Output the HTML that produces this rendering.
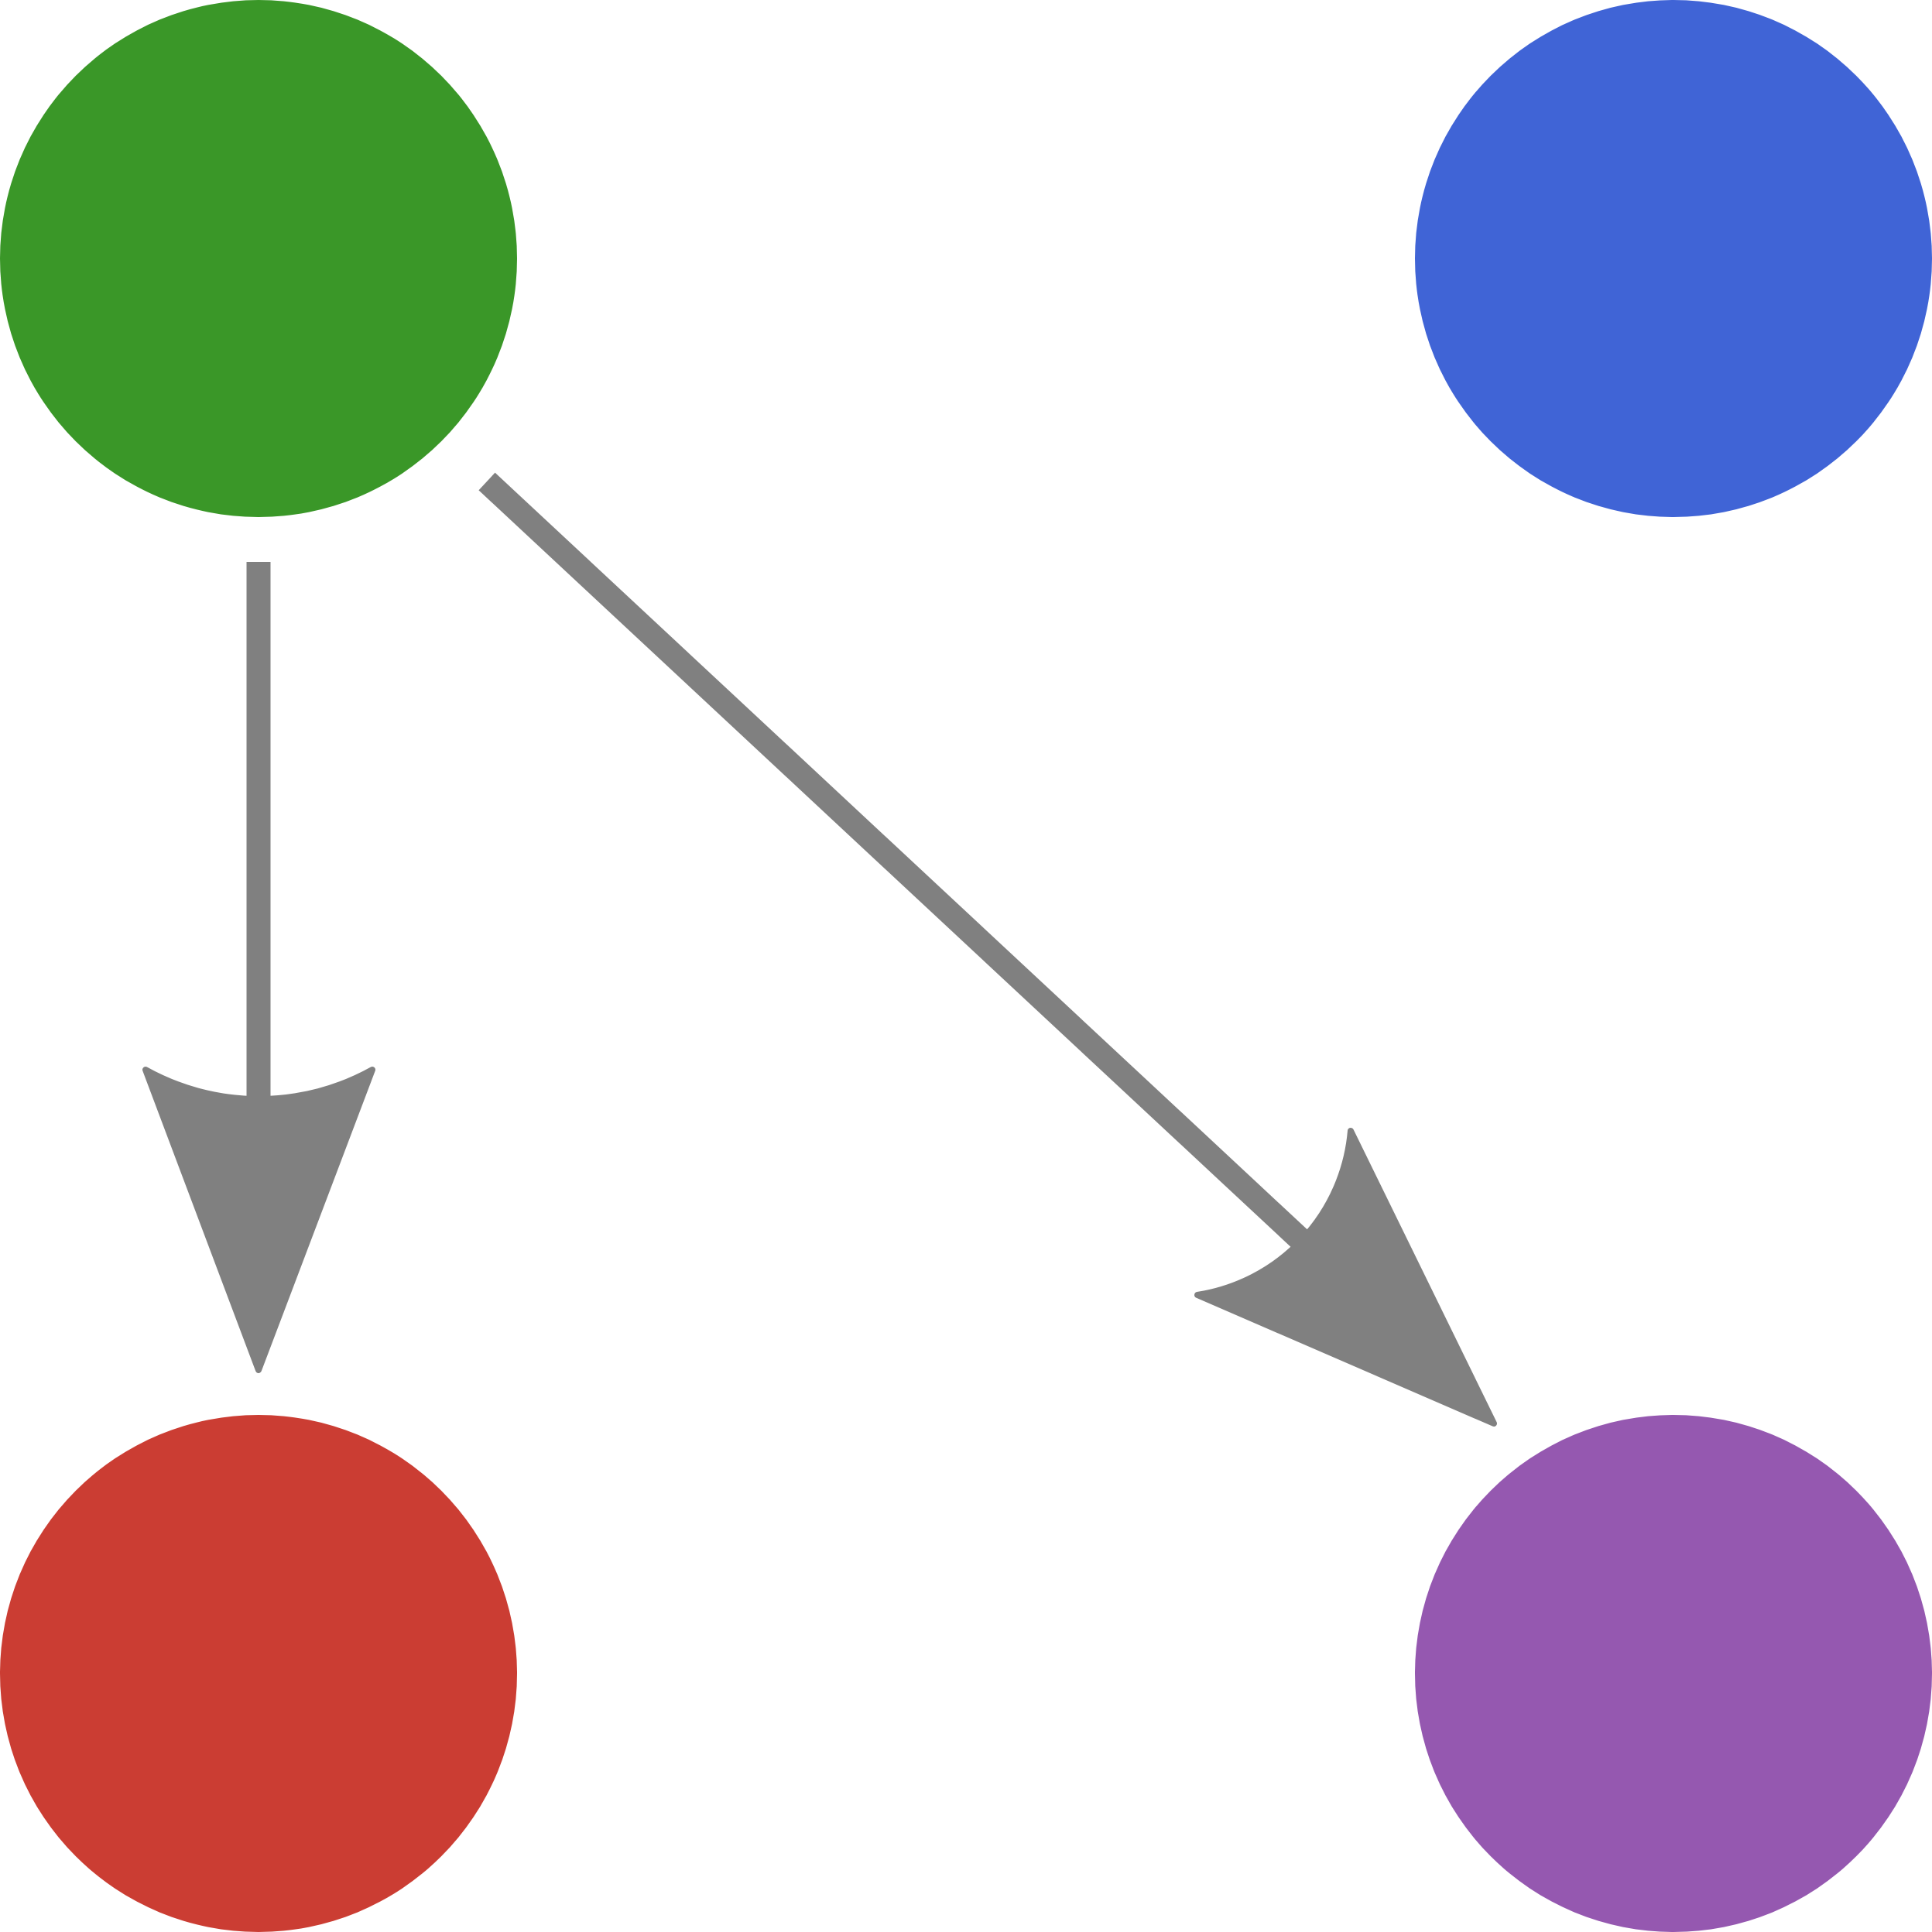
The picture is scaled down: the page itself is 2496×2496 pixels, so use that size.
<!DOCTYPE html>
<html>
<head>
<meta charset="utf-8">
<style>
html,body{margin:0;padding:0;background:#fff;}
svg{display:block;}
</style>
</head>
<body>
<svg width="2496" height="2496" viewBox="0 0 2496 2496" xmlns="http://www.w3.org/2000/svg">
  <rect width="2496" height="2496" fill="#ffffff"/>
  <circle cx="334" cy="334" r="334" fill="#3a9728"/>
  <circle cx="2162" cy="334" r="334" fill="#4064d6"/>
  <circle cx="334" cy="2162" r="334" fill="#cb3d33"/>
  <circle cx="2162" cy="2162" r="334" fill="#9558b0"/>

  <!-- vertical connector -->
  <line x1="334" y1="726" x2="334" y2="1430" stroke="#808080" stroke-width="31"/>
  <path d="M188,1382 A301,301 0 0 0 481,1382 L334,1770 Z" fill="#808080" stroke="#808080" stroke-width="8" stroke-linejoin="round"/>

  <!-- diagonal connector -->
  <line x1="629" y1="622" x2="1685" y2="1606" stroke="#808080" stroke-width="31"/>
  <path d="M1745,1461 A235,235 0 0 1 1547,1673 L1930,1839 Z" fill="#808080" stroke="#808080" stroke-width="8" stroke-linejoin="round"/>
</svg>
</body>
</html>
